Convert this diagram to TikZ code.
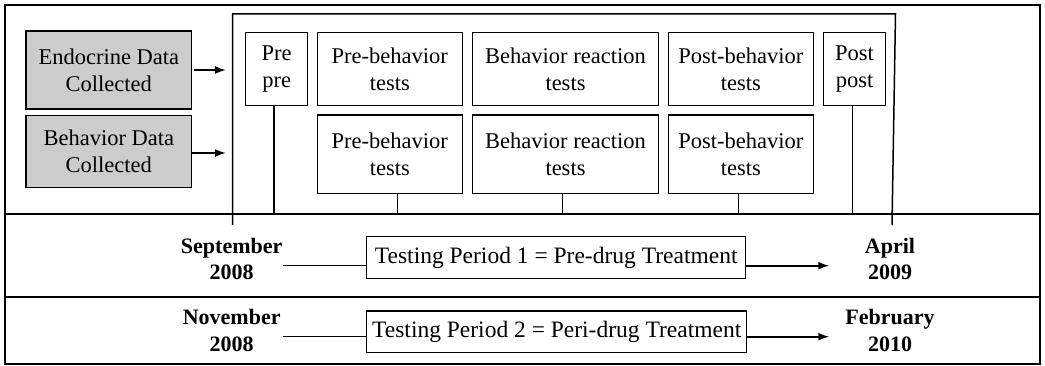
\documentclass[tikz,border=0pt]{standalone}
\usepackage{fontspec}
\setmainfont{Liberation Serif}
\usetikzlibrary{arrows.meta,calc}
\begin{document}
\begin{tikzpicture}[x=1pt,y=-1pt,
  every path/.style={line width=1.5pt},
  txt/.style={font=\fontsize{22.5}{27}\selectfont, align=center, inner sep=0pt},
  box/.style={txt, draw, line width=1.5pt},
  gbox/.style={box, fill=black!20},
  wide/.style={font=\fontsize{23.5}{27}\selectfont},
  date/.style={txt, font=\fontsize{22}{26.5}\selectfont\bfseries},
  arr/.style={-{Latex[length=11pt,width=8pt]}, line width=1.7pt}]
\useasboundingbox (0,0) rectangle (1045,366);
% outer frame and row separators
\draw (5,5) rectangle (1040,364);
\coordinate (L1) at (5,214); \coordinate (R1) at (1040,214);
\coordinate (L2) at (5,297); \coordinate (R2) at (1040,297);
\draw (L1) -- (R1);
\draw (L2) -- (R2);
% inner frame
\draw (232.7,225) -- (232.7,14) -- (895.5,14) -- (892,225);
% data boxes
\node[gbox, minimum width=165.7pt, minimum height=78pt] (endo) at (108.8,70) {Endocrine Data\\Collected};
\node[gbox, minimum width=165.7pt, minimum height=72pt] (beh) at (108.8,151.7) {Behavior Data\\Collected};
\coordinate (ea) at (226,70);
\coordinate (ba) at (226,153);
\draw[arr] (endo.east -| 194,0) -- (ea);
\draw[arr] (beh.east |- ba) -- (ba);
% test boxes
\node[box, minimum width=62pt, minimum height=72.6pt] (pp) at (276.7,69) {Pre\\pre};
\node[box, minimum width=145pt, minimum height=72.6pt] (pb1) at (389.8,69) {Pre-behavior\\tests};
\node[box, minimum width=186.4pt, minimum height=72.6pt] (br1) at (565.5,69) {Behavior reaction\\tests};
\node[box, minimum width=145pt, minimum height=72.6pt] (po1) at (740.8,69) {Post-behavior\\tests};
\node[box, minimum width=62.4pt, minimum height=72.6pt] (ppo) at (854.5,69) {Post\\post};
\node[box, minimum width=145pt, minimum height=78.3pt] (pb2) at (389.8,154.2) {Pre-behavior\\tests};
\node[box, minimum width=186.4pt, minimum height=78.3pt] (br2) at (565.5,154.2) {Behavior reaction\\tests};
\node[box, minimum width=145pt, minimum height=78.3pt] (po2) at (740.8,154.2) {Post-behavior\\tests};
% ticks to timeline
\coordinate (t0) at (274,214);
\coordinate (t1) at (397.7,214);
\coordinate (t2) at (562.7,214);
\coordinate (t3) at (738.3,214);
\coordinate (t4) at (852.7,214);
\draw (t0 |- pp.south) -- (t0);
\draw (t1 |- pb2.south) -- (t1);
\draw (t2 |- br2.south) -- (t2);
\draw (t3 |- po2.south) -- (t3);
\draw (t4 |- ppo.south) -- (t4);
% period 1
\node[date] (sep) at (231.7,259) {September\\2008};
\node[date] (apr) at (890,259) {April\\2009};
\node[box, wide, minimum width=379pt, minimum height=41.6pt] (tp1) at (556.2,257.5) {Testing Period 1 = Pre-drug Treatment};
\coordinate (a1) at (829.3,265.7);
\draw (283.3,265.7) coordinate (s1) -- (s1 -| tp1.west);
\draw[arr] (tp1.east |- a1) -- (a1);
% period 2
\node[date] (nov) at (231.7,330.5) {November\\2008};
\node[date] (feb) at (890,330.5) {February\\2010};
\node[box, wide, minimum width=380pt, minimum height=41.3pt] (tp2) at (556.7,331.6) {Testing Period 2 = Peri-drug Treatment};
\coordinate (a2) at (829.3,336.7);
\draw (283.3,336.7) coordinate (s2) -- (s2 -| tp2.west);
\draw[arr] (tp2.east |- a2) -- (a2);
\end{tikzpicture}
\end{document}
